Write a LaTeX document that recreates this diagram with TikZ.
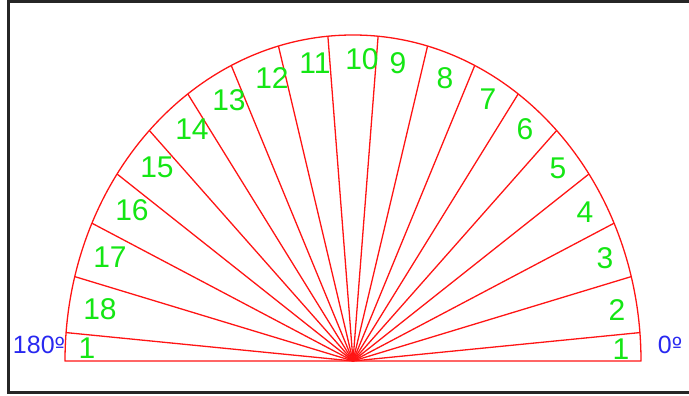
\documentclass[tikz,border=0pt]{standalone}
\usepackage{fontspec}
\setmainfont{Liberation Sans}
\newfontfamily\ordfont{DejaVu Sans}
\definecolor{protred}{RGB}{255,20,20}
\definecolor{protgreen}{RGB}{20,230,20}
\definecolor{protblue}{RGB}{40,40,240}
\newcommand{\ordo}{{\ordfont\fontsize{22}{22}\selectfont º}}
\begin{document}
\begin{tikzpicture}[x=1pt,y=-1pt,
  ray/.style={draw=protred, line width=1.3pt},
  num/.style={text=protgreen, font=\fontsize{30}{30}\selectfont, inner sep=0pt},
  deg/.style={text=protblue, font=\fontsize{25}{25}\selectfont, inner sep=0pt}]
\useasboundingbox (0,0) rectangle (689,396);
\draw[line width=2.5pt, black!85] (8.5,1.5) rectangle (720,392.5);
\coordinate (O) at (353,361);
\draw[ray, line join=round] (O) ++(288,0) arc[start angle=0, end angle=-180, x radius=288, y radius=326] -- cycle;
\foreach \a in {5,15,...,175}{
  \coordinate (r\a) at ({353+288*cos(\a)},{361-326*sin(\a)});
  \draw[ray] (O) -- (r\a);
}
\foreach \n/\x/\y/\t in {1r/621/349/1, 2/617/310/2, 3/605/258/3, 4/585/212/4, 5/558/168/5,
  6/525/129/6, 7/488/99/7, 8/445/78/8, 9/398/63/9, 10/362/59/10, 11/315/63/11,
  12/272/78/12, 13/229/100/13, 14/192/129/14, 15/157/167/15, 16/132/210/16,
  17/110/257/17, 18/100/309/18, 1l/87/348/1}{
  \node[num] (n\n) at (\x,\y) {\t};
}
\node[deg] (zero) at (670,345) {0\ordo};
\node[deg] (oneeighty) at (39,345) {180\ordo};
\end{tikzpicture}
\end{document}
